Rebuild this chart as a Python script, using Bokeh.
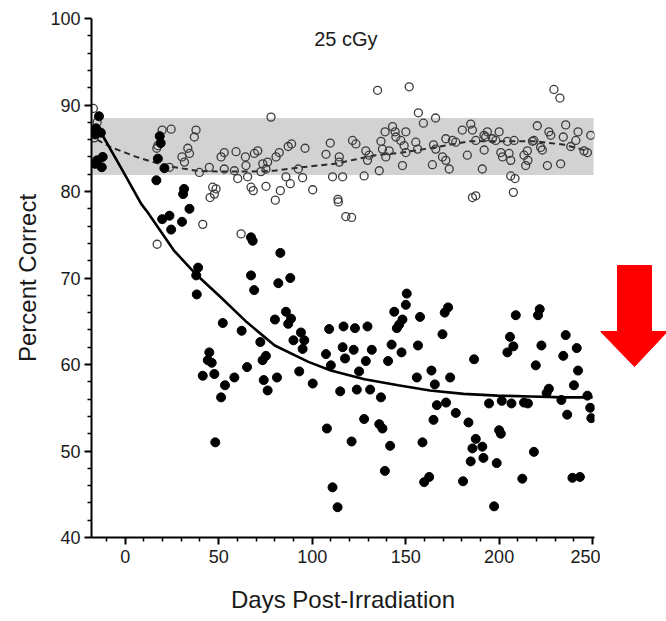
from bokeh.plotting import figure
from bokeh.layouts import row
from bokeh.models import FixedTicker, Range1d, Label
from bokeh.embed import file_html
from bokeh.resources import INLINE

# ---------------- data ----------------
TITLE = "25 cGy"
X_LABEL = "Days Post-Irradiation"
Y_LABEL = "Percent Correct"
X_TICKS = [0, 50, 100, 150, 200, 250]
X_MINOR = [-10, 10, 20, 30, 40, 60, 70, 80, 90, 110, 120, 130, 140, 160, 170, 180, 190,
           210, 220, 230, 240]
Y_TICKS = [40, 50, 60, 70, 80, 90, 100]
Y_MINOR = [42, 44, 46, 48, 52, 54, 56, 58, 62, 64, 66, 68, 72, 74, 76, 78, 82, 84, 86, 88,
           92, 94, 96, 98]

# normal range band
BAND_LOW = 81.9
BAND_HIGH = 88.5
BAND_START = -18
BAND_END = 250.5

# irradiated group (filled circles)
filled_days = [
    -17, -15.5, -14, -13, -16, -15, -12, -12.5, -16,
    17.5, 18.5, 19, 21, 16.7, 31.5, 31, 34.4, 19.8, 23.7, 24.6, 30.4,
    67.3, 68.2, 83, 39, 38, 38.3, 67.3, 69, 81.9, 88.3,
    52.2, 62.3, 80.1, 86, 88.7, 87.2, 94, 95.8, 94.9, 90, 72.3, 75.3, 73.5, 65.2,
    45, 44.2, 46.3, 41.5, 47.7, 53.4, 58.4, 51.3, 74.1, 76.2, 81.2, 93.1, 100.3,
    107.4, 109.1, 110, 48.2, 107.9, 110.9, 113.6,
    150.6, 150.1, 143.9, 148.3, 146.5, 145.3, 172.7, 170.9, 157.7, 169.7, 156.6, 142.5,
    147.8, 140.6, 131.9, 128.7, 122.2, 116.3, 117.6, 116.8, 122.9, 129.6, 125.1, 115,
    123.9, 131, 136.8, 156, 163.8, 173.8, 165.6, 186.6, 166.7, 171.6, 176.8, 164.9,
    127.8, 135.9, 137.6, 121.1, 141.7, 138.9, 159, 162.6, 159.9, 183.6, 187.5, 185.7,
    191, 191.6, 184.8, 198.7, 180.7, 197.3, 194.6, 201.4, 206.6, 213.3, 215.4, 200,
    200.9, 218.6, 212.4, 239.2, 243.2, 236.4, 233.3, 247.2, 248.7, 249.3, 240, 242.2,
    241.5, 234.3, 235.6, 226.6, 225.4, 219.6, 222.6, 220.8, 221.7, 208.9, 205.8, 207.6,
    204.4,
]
filled_pct = [
    87.0, 87.3, 88.7, 86.8, 86.6, 83.6, 84.0, 82.8, 83.2,
    83.8, 86.4, 85.6, 82.7, 81.3, 80.3, 79.7, 78.0, 76.8, 77.2, 75.6, 76.5,
    74.7, 74.3, 72.9, 71.2, 70.3, 68.1, 70.3, 68.6, 69.4, 70.0,
    64.8, 63.9, 65.2, 66.1, 65.3, 64.7, 63.7, 62.8, 61.8, 62.8, 62.6, 61.0, 60.5, 59.7,
    61.4, 60.5, 60.2, 58.7, 58.9, 57.6, 58.5, 56.2, 58.2, 57.0, 58.5, 59.2, 57.8,
    61.2, 64.1, 59.9, 51.0, 52.6, 45.8, 43.5,
    68.2, 66.9, 66.1, 65.2, 64.6, 64.2, 66.6, 66.0, 65.5, 63.5, 62.2, 62.3,
    61.4, 60.4, 61.7, 60.4, 61.7, 62.0, 60.7, 64.4, 64.2, 64.4, 59.2, 56.9,
    57.1, 57.1, 56.2, 58.5, 59.3, 58.5, 57.7, 60.6, 55.3, 55.6, 54.4, 53.6,
    53.7, 53.1, 52.6, 51.1, 50.6, 47.7, 51.0, 47.0, 46.4, 53.3, 51.4, 50.3,
    50.5, 49.2, 48.8, 48.6, 46.5, 43.6, 55.5, 55.8, 55.5, 55.6, 55.5, 52.4,
    52.0, 49.9, 46.8, 46.9, 47.0, 54.2, 55.9, 56.4, 55.0, 53.8, 57.6, 59.3,
    61.9, 61.0, 63.4, 57.2, 56.7, 59.9, 62.2, 65.7, 66.4, 65.7, 63.2, 62.1,
    61.4,
]

# control group (open circles)
open_days = [
    -17, -15, -16.5,
    19.8, 24.6, 17.5, 16.9, 37.9, 37.0, 33.5, 34.4, 30.4, 31.7, 23.7, 39.7, 45, 46.8,
    45.4, 47.7, 41.5, 17.1,
    51.3, 53, 59.3, 64.3, 69.1, 70.9, 73.6, 76.2, 80.7, 82.4, 87.2, 89, 96.2, 107.4,
    109.7, 78, 60.2, 65.5, 67.3, 68.5, 75.3, 80.3, 83, 86, 88.3, 94.9, 100.3, 110.9,
    113.8, 62,
    53, 58.4, 72.6, 75.3, 92.6, 114.5, 48.6, 64.6,
    135, 151.9, 156.8, 159.5, 166, 143, 144.4, 139, 150.1, 136.8, 137.6, 144.8, 147.4,
    149.2, 150.1, 141.2, 139.4, 155.4, 156.4, 148.3, 164.9, 166.1, 171.5, 175, 176.8,
    169.7, 171.5, 173.3, 164.3, 180.3, 184.8, 185.7, 183, 121.6, 123.4, 128.7, 130.5,
    129.6, 114.5, 135.9, 127.8, 116.3,
    185.7, 114, 118, 121.1, 187.5, 207.6, 208.5,
    229.3, 232.5, 220.4, 226.6, 227.6, 235.6, 242.2, 241, 249, 234.3, 247.2, 245.4,
    232.9, 225.8, 223.1, 222.2, 218.6, 217.8, 215.1, 213.3, 215.4, 214.2, 205.3, 201.8,
    200.9, 206.2, 208, 204.4, 200, 198.2, 196.4, 193.7, 192.8, 191.9, 187.5, 192, 191,
    206.2, 238.3,
]
open_pct = [
    89.6, 88.0, 86.2,
    87.1, 87.2, 85.3, 85.0, 87.1, 86.3, 85.0, 84.4, 84.0, 83.4, 82.8, 82.2, 82.8, 80.5,
    79.3, 79.7, 76.2, 73.9,
    84.0, 84.5, 84.6, 84.0, 84.4, 84.7, 83.2, 83.4, 84.0, 84.5, 85.2, 85.5, 85.0, 84.3,
    85.6, 88.6, 81.5, 81.7, 80.5, 80.1, 80.6, 79.0, 80.1, 81.7, 80.9, 81.6, 80.2, 81.7,
    79.1, 75.1,
    82.6, 82.4, 82.3, 82.6, 82.6, 84.0, 80.3, 83.0,
    91.7, 92.1, 89.1, 87.9, 88.5, 87.5, 86.9, 86.9, 86.9, 85.8, 84.9, 86.3, 85.9,
    85.3, 84.5, 84.7, 84.0, 85.7, 84.9, 83.0, 85.4, 84.9, 86.1, 85.9, 85.7,
    84.0, 83.6, 82.6, 83.1, 87.1, 87.8, 87.1, 84.2, 85.9, 85.5, 84.7, 84.2,
    83.6, 83.4, 82.4, 81.8, 81.7,
    79.3, 78.8, 77.1, 77.0, 79.5, 79.9, 81.5,
    91.8, 90.8, 87.6, 86.9, 86.5, 87.7, 86.9, 85.9, 86.5, 86.3, 84.5, 84.7,
    83.2, 83.0, 84.8, 85.1, 85.9, 85.8, 84.7, 84.2, 83.6, 83.0, 84.4, 84.0,
    84.5, 83.6, 85.9, 85.8, 86.9, 85.9, 86.1, 86.9, 86.3, 86.5, 85.9, 84.8, 82.6,
    81.8, 85.2,
]

# fitted curves
solid_days = [-15, -5, 0, 8.5, 12, 26, 38, 51, 65, 80, 98, 110, 128, 146, 163, 181, 199,
              217, 235, 250]
solid_pct = [87.6, 83.8, 81.9, 78.6, 77.6, 73.2, 70.4, 67.8, 64.9, 62.2, 60.3, 59.3, 58.3,
             57.6, 57.0, 56.6, 56.4, 56.3, 56.2, 56.2]
dash_days = [-15, -7.5, 0, 6, 15, 24, 38, 50, 65, 80, 90, 103, 112, 123, 134, 148, 163,
             184, 206, 220, 235, 247]
dash_pct = [86.0, 85.1, 84.5, 84.0, 83.4, 82.9, 82.4, 82.3, 82.3, 82.4, 82.7, 83.0, 83.2,
            83.7, 84.2, 84.5, 85.0, 85.8, 85.8, 85.8, 85.4, 84.7]

# ---------------- styling ----------------
FONT = "Liberation Sans"
TEXT_COLOR = "#1a1a1a"

p = figure(width=600, height=619, x_range=Range1d(-18, 251), y_range=Range1d(40, 100),
           output_backend="svg", toolbar_location=None,
           min_border_left=91, min_border_right=6, min_border_top=18, min_border_bottom=82)
p.outline_line_color = None
p.grid.visible = False
p.background_fill_color = "white"
p.border_fill_color = "white"

p.quad(left=[BAND_START], right=[BAND_END], bottom=[BAND_LOW], top=[BAND_HIGH],
       fill_color="#d2d2d2", line_color=None)

p.line(dash_days, dash_pct, line_color="#2a2a2a", line_width=2, line_dash="6 4")
p.scatter(open_days, open_pct, marker="circle", size=8, fill_color=None,
          line_color="#3c3c3c", line_width=1.3)
p.scatter(filled_days, filled_pct, marker="circle", size=9, fill_color="black",
          line_color="black")
p.line(solid_days, solid_pct, line_color="black", line_width=2.6)

p.add_layout(Label(x=118, y=97.6, text=TITLE, text_align="center", text_baseline="middle",
                   text_font=FONT, text_font_size="20px", text_color=TEXT_COLOR))

p.xaxis.ticker = FixedTicker(ticks=X_TICKS, minor_ticks=X_MINOR)
p.yaxis.ticker = FixedTicker(ticks=Y_TICKS, minor_ticks=Y_MINOR)
p.xaxis.axis_label = X_LABEL
p.yaxis.axis_label = Y_LABEL
for ax in (p.xaxis, p.yaxis):
    ax.axis_line_width = 2
    ax.axis_line_color = "black"
    ax.major_tick_line_width = 2
    ax.major_tick_line_color = "black"
    ax.major_tick_out = 7
    ax.major_tick_in = 0
    ax.minor_tick_line_width = 1.5
    ax.minor_tick_line_color = "black"
    ax.minor_tick_out = 4
    ax.minor_tick_in = 0
    ax.major_label_text_font = FONT
    ax.major_label_text_font_size = "18px"
    ax.major_label_text_color = TEXT_COLOR
    ax.axis_label_text_font = FONT
    ax.axis_label_text_font_style = "normal"
    ax.axis_label_text_color = TEXT_COLOR
    ax.axis_label_text_font_size = "24px"
p.xaxis.major_label_standoff = 5
p.xaxis.axis_label_standoff = 20
p.yaxis.major_label_standoff = 4
p.yaxis.axis_label_standoff = 6

# red arrow pointing down, drawn in a narrow side panel whose frame is aligned with the
# main plot frame (reference pixel rows 18..537)
ARROW_XS = [617, 651, 651, 667, 634, 600, 617]
ARROW_YS = [265, 265, 331, 331, 366, 331, 331]
q = figure(width=66, height=619, x_range=Range1d(600, 666), y_range=Range1d(537, 18),
           output_backend="svg", toolbar_location=None,
           x_axis_location=None, y_axis_location=None,
           min_border_left=0, min_border_right=0, min_border_top=18, min_border_bottom=82)
q.outline_line_color = None
q.grid.visible = False
q.patch(ARROW_XS, ARROW_YS, fill_color="#ff0000", line_color="#ff0000")

layout = row(p, q)
open("out.html", "w").write(file_html(layout, INLINE))
